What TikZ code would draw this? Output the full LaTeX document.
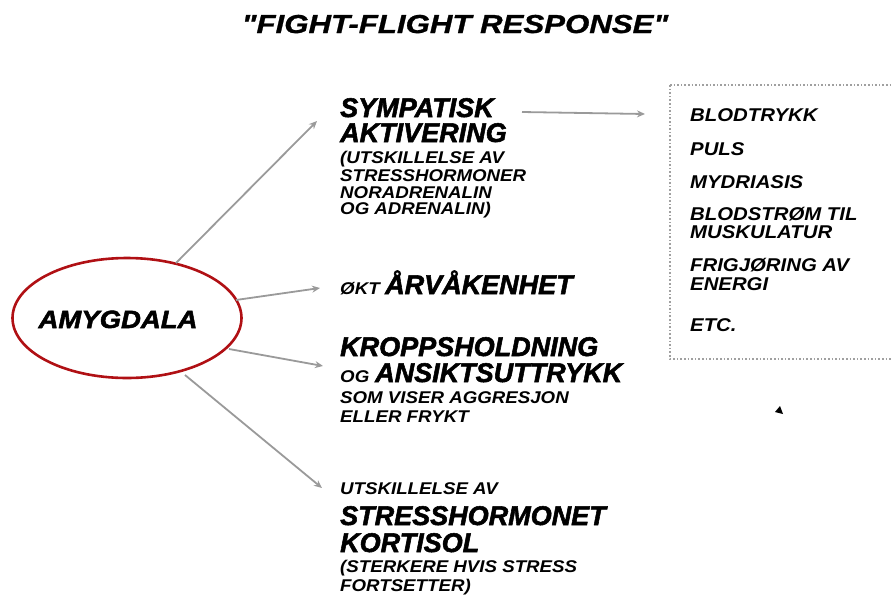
\documentclass[tikz,border=0pt]{standalone}
\usepackage{fontspec}
\setmainfont{Liberation Sans}
\newfontfamily\lightfont{Liberation Sans Bold Italic}[FakeStretch=1.1]
\newfontfamily\boxfont{Liberation Sans Bold Italic}[FakeStretch=1.1]
\newfontfamily\titlefont{Liberation Sans Bold Italic}[FakeStretch=1.2,RawFeature={embolden=1}]
\newfontfamily\heavyfont{Liberation Sans Bold Italic}[RawFeature={embolden=2}]
\newfontfamily\amyfont{Liberation Sans Bold Italic}[FakeStretch=1.1,RawFeature={embolden=2}]
\usetikzlibrary{arrows.meta,shapes.geometric}
\definecolor{amyred}{HTML}{B01014}
\definecolor{arrgrey}{HTML}{9A9A9A}
\definecolor{boxgrey}{HTML}{A0A0A0}
\tikzset{
  head/.style={font=\heavyfont\fontsize{27}{27}\selectfont, anchor=base west, inner sep=0pt},
  small/.style={font=\lightfont\fontsize{17}{17}\selectfont, anchor=base west, inner sep=0pt},
  boxtxt/.style={font=\boxfont\fontsize{18.5}{18.5}\selectfont, anchor=base west, inner sep=0pt},
  conn/.style={draw=arrgrey, line width=1.8pt, -{Stealth[length=8pt,width=7pt]}},
}
\begin{document}
\begin{tikzpicture}[x=1pt,y=-1pt]
\useasboundingbox (0,0) rectangle (892,595);
% title
\node[font=\titlefont\fontsize{26}{26}\selectfont, anchor=base, inner sep=0pt] (title) at (455,33) {"FIGHT-FLIGHT RESPONSE"};
% amygdala
\node[draw=amyred, line width=2.6pt, ellipse, minimum width=229pt, minimum height=120pt, inner sep=0pt] (amy) at (127,318) {};
\node[anchor=base, inner sep=0pt, font=\amyfont\fontsize{25}{25}\selectfont] (amyt) at (118,328) {AMYGDALA};
% sympatisk
\node[head] (s1) at (340,117) {SYMPATISK};
\node[head] (s2) at (340,142) {AKTIVERING};
\node[small] (s3) at (340,163) {(UTSKILLELSE AV};
\node[small] (s4) at (340,181) {STRESSHORMONER};
\node[small] (s5) at (340,198) {NORADRENALIN};
\node[small] (s6) at (340,214) {OG ADRENALIN)};
% arvakenhet
\node[small] (o1) at (340,294) {ØKT};
\node[head] (o2) at (385,294) {ÅRVÅKENHET};
% kroppsholdning
\node[head] (k1) at (340,356) {KROPPSHOLDNING};
\node[small] (k2) at (340,382) {OG};
\node[head] (k3) at (375,382) {ANSIKTSUTTRYKK};
\node[small] (k4) at (340,403) {SOM VISER AGGRESJON};
\node[small] (k5) at (340,422) {ELLER FRYKT};
% kortisol
\node[small] (c1) at (340,494) {UTSKILLELSE AV};
\node[head] (c2) at (340,525) {STRESSHORMONET};
\node[head] (c3) at (340,552) {KORTISOL};
\node[small] (c4) at (340,572) {(STERKERE HVIS STRESS};
\node[small] (c5) at (340,591) {FORTSETTER)};
% box
\draw[boxgrey, line width=1.6pt, dotted] (670,85) -- (895,85) (670,85) -- (670,359) -- (895,359);
\node[boxtxt] (b1) at (690,121) {BLODTRYKK};
\node[boxtxt] (b2) at (690,155) {PULS};
\node[boxtxt] (b3) at (690,188) {MYDRIASIS};
\node[boxtxt] (b4) at (690,220) {BLODSTRØM TIL};
\node[boxtxt] (b5) at (690,238) {MUSKULATUR};
\node[boxtxt] (b6) at (690,271) {FRIGJØRING AV};
\node[boxtxt] (b7) at (690,290) {ENERGI};
\node[boxtxt] (b8) at (690,331) {ETC.};
% connectors
\coordinate (a1s) at (176,263); \coordinate (a1e) at (317,121);
\coordinate (a2s) at (236,300); \coordinate (a2e) at (320,288);
\coordinate (a3s) at (229,349); \coordinate (a3e) at (323,366);
\coordinate (a4s) at (185,375); \coordinate (a4e) at (322,488);
\coordinate (a5s) at (522,112); \coordinate (a5e) at (645,114);
\draw[conn] (a1s) -- (a1e);
\draw[conn] (a2s) -- (a2e);
\draw[conn] (a3s) -- (a3e);
\draw[conn] (a4s) -- (a4e);
\draw[conn] (a5s) -- (a5e);
% stray arrowhead
\fill (780,406) -- (775,412) -- (783,414) -- cycle;
\end{tikzpicture}
\end{document}
